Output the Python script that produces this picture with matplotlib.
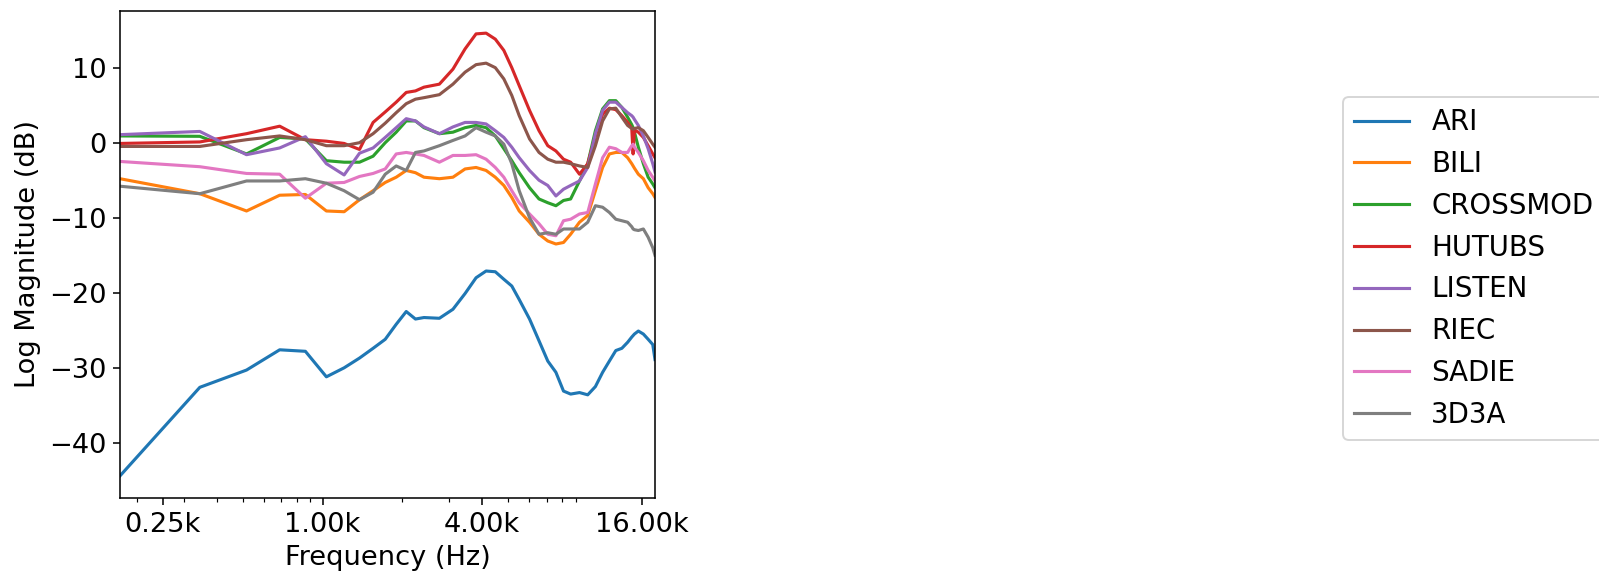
import numpy as np
import matplotlib
matplotlib.use("Agg")
import matplotlib.pyplot as plt
from matplotlib.ticker import FuncFormatter, NullFormatter

# frequency bins (Hz)
freqs = [172.3, 344.5, 516.8, 689.1, 861.3, 1033.6, 1205.9, 1378.1, 1550.4, 1722.7,
         1894.9, 2067.2, 2239.5, 2411.7,
         2756.3, 3100.8, 3445.3, 3789.8, 4134.4, 4478.9, 4823.4, 5168.0, 5512.5,
         6029.3, 6546.1, 7062.9, 7579.7, 8096.5, 8613.3,
         9302.3, 9991.4, 10680.5, 11369.5, 12058.6, 12747.7, 13436.7, 14125.8,
         14642.6, 14814.8, 14987.1,
         15503.9, 16193.0, 16882.0, 17571.1, 17915.6]

ari = [-44.4, -32.6, -30.3, -27.6, -27.8, -31.2, -30.0, -28.7, -27.4, -26.2, -24.2, -22.5, -23.5, -23.3,
       -23.4, -22.2, -20.1, -18.0, -17.1, -17.2, -18.2, -19.1, -20.9,
       -23.5, -26.4, -29.1, -30.6, -33.1, -33.5,
       -33.3, -33.6, -32.5, -30.6, -29.1, -27.7, -27.4, -26.6,
       -25.9, -25.7, -25.5,
       -25.1, -25.5, -26.2, -26.9, -28.9]
bili = [-4.8, -6.8, -9.1, -7.0, -6.9, -9.1, -9.2, -7.6, -6.4, -5.3, -4.6, -3.7, -4.0, -4.6,
        -4.8, -4.6, -3.5, -3.3, -3.7, -4.6, -5.7, -7.3, -9.1,
        -10.6, -12.2, -13.1, -13.5, -13.3, -12.2,
        -10.6, -9.7, -6.4, -3.3, -1.5, -1.3, -1.3, -2.0,
        -2.8, -3.1, -3.4,
        -4.2, -4.8, -6.0, -6.8, -7.3]
crossmod = [0.9, 0.85, -1.5, 0.7, 0.5, -2.4, -2.6, -2.6, -1.8, 0.0, 1.4, 2.9, 2.9, 2.0,
            1.2, 1.4, 2.0, 2.3, 2.0, 0.9, -0.8, -2.4, -4.0,
            -6.0, -7.5, -8.0, -8.4, -7.7, -7.5,
            -5.1, -2.8, 1.6, 4.5, 5.6, 5.6, 4.7, 3.4,
            2.4, 2.0, 1.4,
            -0.6, -2.8, -4.6, -5.5, -6.0]
hutubs = [-0.1, 0.1, 1.2, 2.2, 0.4, 0.2, -0.1, -0.9, 2.7, 4.1, 5.4, 6.7, 6.9, 7.4,
          7.8, 9.8, 12.5, 14.5, 14.6, 13.8, 12.3, 10.0, 7.6,
          4.3, 1.6, -0.4, -1.1, -2.2, -2.6,
          -4.2, -2.8, 0.9, 3.8, 4.6, 4.4, 3.6, 2.7,
          1.9, -1.5, 1.7,
          1.4, 0.7, -0.4, -1.5, -2.0]
listen = [1.07, 1.5, -1.6, -0.7, 0.8, -2.8, -4.3, -1.4, -0.7, 0.7, 2.0, 3.2, 2.9, 2.1,
          1.2, 2.1, 2.7, 2.7, 2.5, 1.6, 0.7, -0.6, -2.0,
          -3.7, -5.0, -5.7, -7.1, -6.2, -5.7,
          -5.1, -3.3, 1.2, 4.3, 5.4, 5.4, 4.7, 4.0,
          3.6, 3.4, 3.1,
          2.3, 0.9, -0.8, -2.8, -3.9]
riec = [-0.5, -0.5, 0.4, 0.9, 0.4, -0.4, -0.4, 0.0, 1.2, 2.6, 4.0, 5.2, 5.8, 6.0,
        6.4, 7.8, 9.4, 10.4, 10.6, 10.0, 8.5, 6.3, 3.6,
        0.5, -1.3, -2.2, -2.6, -2.6, -2.8,
        -3.1, -3.3, -0.4, 2.9, 4.5, 4.6, 3.4, 2.3,
        1.9, 1.8, 1.9,
        2.0, 1.6, 0.7, -0.2, -0.6]
sadie = [-2.5, -3.2, -4.1, -4.2, -7.4, -5.4, -5.3, -4.5, -4.1, -3.5, -1.5, -1.3, -1.5, -1.7,
         -2.6, -1.7, -1.7, -1.6, -2.2, -3.3, -4.6, -6.4, -8.0,
         -9.5, -10.8, -12.2, -12.4, -10.4, -10.2,
         -9.5, -9.3, -5.5, -2.0, -0.6, -0.8, -1.3, -1.3,
         -0.4, -0.2, -0.6,
         -1.3, -2.4, -3.7, -4.6, -5.1]
d3a = [-5.8, -6.8, -5.1, -5.1, -4.8, -5.4, -6.4, -7.6, -6.6, -4.2, -3.1, -3.7, -1.3, -1.1,
       -0.4, 0.3, 0.9, 2.0, 1.4, 0.9, -0.2, -2.8, -6.4,
       -10.0, -12.2, -12.0, -12.2, -11.5, -11.5,
       -11.5, -10.6, -8.4, -8.6, -9.3, -10.2, -10.4, -10.6,
       -11.2, -11.5, -11.6,
       -11.7, -11.5, -12.6, -14.0, -15.0]

names = ["ARI", "BILI", "CROSSMOD", "HUTUBS", "LISTEN", "RIEC", "SADIE", "3D3A"]
series = [ari, bili, crossmod, hutubs, listen, riec, sadie, d3a]

plt.rcParams["font.size"] = 14

fig = plt.figure(figsize=(1599 / 140, 571 / 140), dpi=140)
ax = fig.add_axes([120 / 1599, 1 - 498 / 571, 535 / 1599, 487 / 571])

for name, vals in zip(names, series):
    ax.plot(freqs, vals, label=name, linewidth=1.6)

ax.set_xscale("log")
ax.set_xlim(freqs[0], freqs[-1])
ax.set_xticks([250, 1000, 4000, 16000])
ax.xaxis.set_major_formatter(FuncFormatter(lambda x, _: f"{x / 1000:.2f}k"))
ax.xaxis.set_minor_formatter(NullFormatter())
ax.set_xlabel("Frequency (Hz)")
ax.set_ylabel("Log Magnitude (dB)")

# legend sits right of the empty space, its right side runs off the figure
fig.legend(loc="center left", bbox_to_anchor=(1343 / 1599, 1 - 268.5 / 571),
           bbox_transform=fig.transFigure, borderaxespad=0, fontsize=14.2,
           labelspacing=0.5)

fig.savefig("out.png", dpi=140)
